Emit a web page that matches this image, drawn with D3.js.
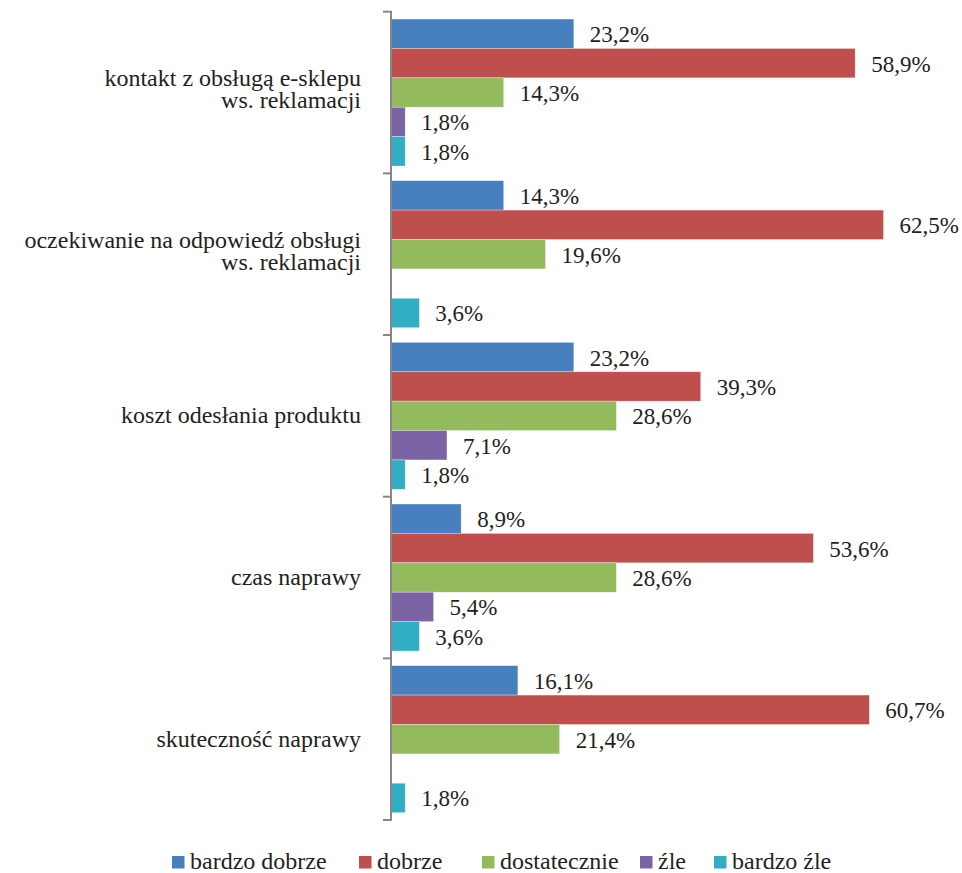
<!DOCTYPE html>
<html>
<head>
<meta charset="utf-8">
<script src="https://cdn.jsdelivr.net/npm/d3@7/dist/d3.min.js"></script>
<style>
  html, body { margin: 0; padding: 0; background: #fff; }
</style>
</head>
<body>
<svg id="chart" width="962" height="873" font-family="serif"></svg>
<script>
// Categories, top to bottom (multi-line labels as arrays)
const categories = [
  ["kontakt z obsługą e-sklepu", "ws. reklamacji"],
  ["oczekiwanie na odpowiedź obsługi", "ws. reklamacji"],
  ["koszt odesłania produktu"],
  ["czas naprawy"],
  ["skuteczność naprawy"]
];
const seriesNames = ["bardzo dobrze", "dobrze", "dostatecznie", "źle", "bardzo źle"];
const seriesColors = ["#4680bf", "#be4f4d", "#93bb5e", "#7b64a6", "#31aec4"];

// Percent per series, one entry per category (null = no answer)
const bardzoDobrze = [23.2, 14.3, 23.2, 8.9, 16.1];
const dobrze       = [58.9, 62.5, 39.3, 53.6, 60.7];
const dostatecznie = [14.3, 19.6, 28.6, 28.6, 21.4];
const zle          = [1.8, null, 7.1, 5.4, null];
const bardzoZle    = [1.8, 3.6, 1.8, 3.6, 1.8];
const seriesValues = [bardzoDobrze, dobrze, dostatecznie, zle, bardzoZle];

const textColor = "#231f20";
const axisColor = "#878787";
const serif = "serif";

const svg = d3.select("#chart");
const axisX = 391, plotTop = 11.7, plotBottom = 820;

const x = d3.scaleLinear().domain([0, 70]).range([axisX, axisX + 70 * 7.88]);
const y0 = d3.scaleBand().domain(d3.range(categories.length)).range([plotTop, plotBottom]);
const y1 = d3.scaleBand().domain(d3.range(seriesNames.length))
  .range([0, y0.bandwidth()]).paddingOuter(0.25).paddingInner(0);

const fmt = v => d3.format(".1f")(v).replace(".", ",") + "%";

// Bars and value labels
categories.forEach((cat, ci) => {
  const g = svg.append("g").attr("transform", `translate(0,${y0(ci)})`);
  seriesValues.forEach((vals, si) => {
    const v = vals[ci];
    if (v == null) return;
    g.append("rect")
      .attr("x", x(0))
      .attr("y", y1(si))
      .attr("width", x(v) - x(0))
      .attr("height", y1.bandwidth())
      .attr("fill", seriesColors[si])
      .attr("stroke", "#ffffff")
      .attr("stroke-opacity", 0.5)
      .attr("stroke-width", 0.6);
    g.append("text")
      .attr("x", x(v) + 16)
      .attr("y", y1(si) + y1.bandwidth() / 2 + 8.5)
      .attr("font-family", serif)
      .attr("font-size", 23)
      .attr("fill", textColor)
      .text(fmt(v));
  });
});

// Vertical category axis with ticks at band boundaries
const axisG = svg.append("g");
axisG.append("line")
  .attr("x1", axisX).attr("x2", axisX)
  .attr("y1", plotTop).attr("y2", plotBottom)
  .attr("stroke", axisColor).attr("stroke-width", 2);
const tickYs = d3.range(categories.length).map(i => y0(i)).concat([plotBottom]);
axisG.selectAll("line.tick").data(tickYs).join("line")
  .attr("class", "tick")
  .attr("x1", axisX - 8).attr("x2", axisX + 1)
  .attr("y1", d => d).attr("y2", d => d)
  .attr("stroke", axisColor).attr("stroke-width", 2);

// Category labels, right aligned
categories.forEach((lines, ci) => {
  const cy = y0(ci) + y0.bandwidth() / 2;
  const n = lines.length;
  const base = cy + 7.5 - (n - 1) * 14;
  const t = svg.append("text")
    .attr("text-anchor", "end")
    .attr("font-family", serif)
    .attr("font-size", 24)
    .attr("fill", textColor);
  lines.forEach((ln, li) => {
    t.append("tspan")
      .attr("x", 361)
      .attr("y", base + li * 22)
      .text(ln);
  });
});

// Legend
const legendX = [172, 359, 482, 640, 714];
const legend = svg.append("g");
seriesNames.forEach((name, i) => {
  legend.append("rect")
    .attr("x", legendX[i]).attr("y", 856)
    .attr("width", 12.5).attr("height", 12.5)
    .attr("fill", seriesColors[i]);
  legend.append("text")
    .attr("x", legendX[i] + 18).attr("y", 868.5)
    .attr("font-family", serif)
    .attr("font-size", 24)
    .attr("fill", textColor)
    .text(name);
});
</script>
</body>
</html>
